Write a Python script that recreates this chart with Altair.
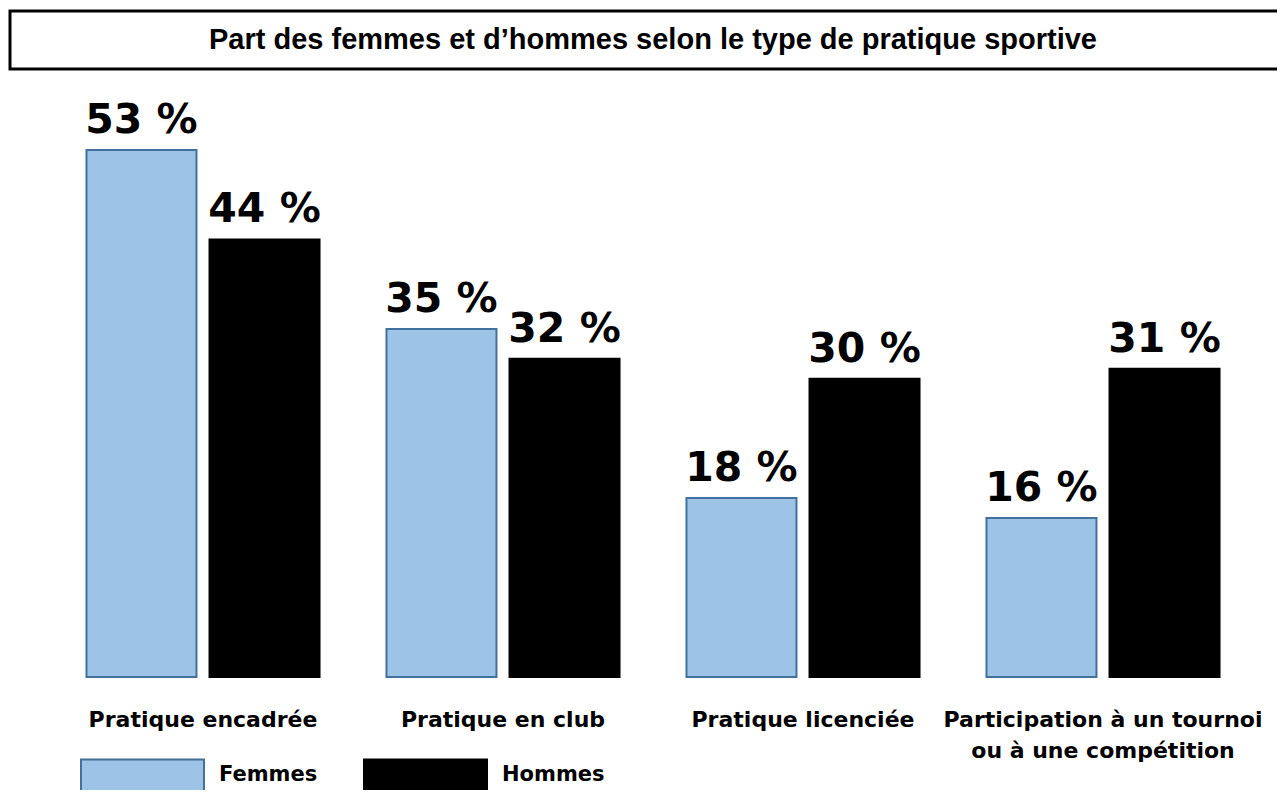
import altair as alt
import pandas as pd

title_text = "Part des femmes et d\u2019hommes selon le type de pratique sportive"
categories = [
    "Pratique encadrée",
    "Pratique en club",
    "Pratique licenciée",
    "Participation à un tournoi\nou à une compétition",
]
sexes = ["Femmes", "Hommes"]
femmes = [53, 35, 18, 16]
hommes = [44, 32, 30, 31]

rows = []
for c, f, h in zip(categories, femmes, hommes):
    rows.append({"categorie": c, "sexe": "Femmes", "valeur": f, "label": f"{f} %"})
    rows.append({"categorie": c, "sexe": "Hommes", "valeur": h, "label": f"{h} %"})
df = pd.DataFrame(rows)
cat_df = pd.DataFrame({"categorie": categories})
one = pd.DataFrame({"k": [0]})

x_enc = alt.X("categorie:N", sort=categories,
              scale=alt.Scale(range=[45, 1245], paddingInner=0, paddingOuter=0),
              axis=None)
xoff = alt.XOffset("sexe:N", sort=sexes,
                   scale=alt.Scale(domain=sexes, paddingInner=0.106, paddingOuter=0.272))
y_enc = alt.Y("valeur:Q", scale=alt.Scale(domain=[0, 67.28], range=[669, 0]), axis=None)

leg = alt.Legend(orient="none", legendX=72, legendY=704, direction="horizontal",
                 title=None, symbolType="M-1,-0.25H1V0.45H-1Z", symbolSize=15129,
                 symbolStrokeWidth=2, labelFont="DejaVu Sans", labelFontWeight="bold",
                 labelFontSize=21, labelColor="black", labelOffset=14,
                 columnPadding=42, labelBaseline="middle")

bars = alt.Chart(df).mark_bar(strokeWidth=2, opacity=1).encode(
    x=x_enc, xOffset=xoff, y=y_enc,
    color=alt.Color("sexe:N", sort=sexes,
                    scale=alt.Scale(domain=sexes, range=["#9DC3E6", "#000000"]),
                    legend=leg),
    stroke=alt.Stroke("sexe:N", sort=sexes,
                      scale=alt.Scale(domain=sexes, range=["#41719C", "#000000"]),
                      legend=leg),
)

values = alt.Chart(df).mark_text(
    font="DejaVu Sans", fontWeight="bold", fontSize=41, color="black",
    baseline="alphabetic", align="center", dy=-17,
).encode(x=x_enc, xOffset=xoff, y=y_enc, text="label:N")

cat_labels = alt.Chart(cat_df).mark_text(
    font="DejaVu Sans", fontWeight="bold", fontSize=22, color="black",
    baseline="alphabetic", align="center", lineBreak="\n", lineHeight=31,
).encode(x=x_enc, y=alt.value(719), text="categorie:N")

title_box = alt.Chart(one).mark_rect(
    fill="white", stroke="black", strokeWidth=3,
).encode(x=alt.value(2), x2=alt.value(1300), y=alt.value(3), y2=alt.value(61))

title = alt.Chart(one).mark_text(
    text=title_text, font="Liberation Sans", fontWeight="bold", fontSize=29,
    color="black", align="center", baseline="middle",
).encode(x=alt.value(645), y=alt.value(32))

chart = alt.layer(title_box, title, bars, values, cat_labels).properties(
    width=1269, height=782,
    autosize=alt.AutoSizeParams(type="none"),
    padding=0,
).configure_view(stroke=None).resolve_scale(color="shared")

chart.save("out.html", embed_options={"renderer": "svg", "actions": False})
